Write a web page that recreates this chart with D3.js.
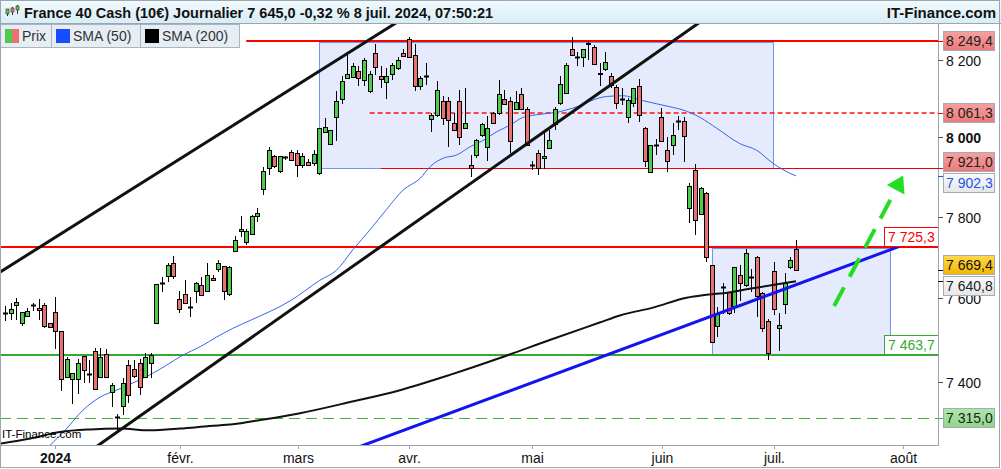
<!DOCTYPE html>
<html>
<head>
<style>
body { margin: 0; background: #fff; }
svg { display: block; font-family: "Liberation Sans", Arial, sans-serif; }
</style>
</head>
<body>
<svg width="1001" height="469"></svg>
<script src="https://d3js.org/d3.v7.min.js"></script>
<script>
// daily candles [open, high, low, close], from mid-December 2023 to 8 July 2024
var candles = [
  [7564,7581,7544,7564],[7564,7589,7546,7573],[7583,7601,7548,7590],[7540,7567,7532,7567],
  [7557,7577,7554,7569],[7583,7589,7569,7583],[7576,7597,7548,7571],[7583,7589,7528,7532],
  [7541,7541,7528,7531],[7567,7603,7478,7521],[7520,7520,7377,7406],[7410,7458,7408,7454],
  [7406,7420,7348,7420],[7406,7453,7371,7444],[7460,7460,7398,7427],[7419,7451,7396,7419],
  [7472,7479,7382,7382],[7411,7479,7408,7458],[7466,7477,7408,7410],[7375,7398,7340,7391],
  [7318,7324,7286,7318],[7343,7409,7322,7398],[7439,7451,7349,7368],[7430,7451,7408,7414],
  [7444,7453,7369,7387],[7411,7467,7408,7458],[7444,7467,7408,7464],[7540,7635,7540,7635],
  [7637,7651,7616,7637],[7654,7685,7639,7680],[7685,7703,7647,7654],[7599,7618,7565,7573],
  [7610,7643,7585,7589],[7579,7603,7554,7579],[7618,7639,7587,7637],[7632,7651,7605,7607],
  [7617,7685,7616,7657],[7650,7656,7643,7645],[7670,7693,7664,7685],[7678,7679,7595,7618],
  [7610,7678,7605,7675],[7715,7753,7714,7743],[7764,7802,7749,7769],[7738,7769,7730,7764],
  [7757,7805,7757,7802],[7802,7822,7786,7809],[7869,7925,7853,7914],[7921,7975,7905,7967],
  [7952,7955,7921,7927],[7914,7952,7909,7952],[7949,7952,7942,7949],[7963,7967,7940,7942],
  [7959,7967,7899,7930],[7930,7959,7922,7952],[7938,7944,7927,7931],[7934,7967,7927,7957],
  [7909,8023,7905,8023],[8014,8049,8011,8027],[7982,8018,7980,8018],[8051,8118,7992,8094],
  [8098,8159,8086,8144],[8153,8218,8153,8164],[8155,8192,8153,8185],[8172,8183,8131,8153],
  [8148,8204,8132,8200],[8118,8170,8114,8163],[8218,8243,8161,8181],[8157,8183,8127,8150],
  [8142,8179,8098,8157],[8163,8192,8148,8187],[8178,8209,8174,8200],[8218,8230,8209,8211],
  [8256,8261,8207,8207],[8213,8243,8118,8132],[8131,8157,8122,8154],[8157,8192,8135,8157],
  [8046,8062,8014,8057],[8057,8146,8053,8122],[8094,8107,8031,8050],[8094,8105,7976,8044],
  [8036,8062,8018,8018],[8094,8122,7980,8001],[8025,8127,8025,8036],[7930,7955,7900,7921],
  [7955,7997,7947,7994],[8007,8036,8001,8033],[7976,8055,7941,8023],[8062,8066,8036,8038],
  [8062,8148,8057,8111],[8098,8122,8083,8086],[8094,8105,7959,7992],[8072,8118,8070,8092],
  [8111,8127,8070,8072],[8072,8079,7980,7980],[7931,7940,7917,7931],[7959,7967,7905,7921],
  [7947,8018,7919,7953],[7972,8018,7972,7994],[8034,8079,8018,8072],[8089,8157,8083,8137],
  [8115,8192,8114,8187],[8228,8261,8211,8213],[8209,8222,8183,8209],[8209,8230,8181,8228],
  [8245,8246,8200,8241],[8235,8239,8187,8189],[8163,8192,8133,8167],[8176,8222,8170,8196],
  [8157,8166,8127,8135],[8129,8135,8074,8087],[8098,8127,8083,8098],[8051,8101,8038,8096],
  [8089,8127,8079,8127],[8133,8150,8040,8057],[8025,8027,7925,7940],[7911,7980,7909,7980],
  [7980,7997,7955,7980],[8051,8075,7991,7991],[7969,8001,7913,7940],[7980,8036,7955,8005],
  [8042,8055,8018,8042],[8042,8051,7938,8003],[7822,7885,7784,7878],[7917,7933,7755,7791],
  [7807,7875,7807,7873],[7860,7861,7689,7700],[7680,7680,7495,7495],[7532,7579,7506,7565],
  [7626,7636,7562,7626],[7614,7614,7558,7564],[7581,7675,7565,7675],[7656,7680,7593,7636],
  [7631,7720,7626,7711],[7651,7670,7614,7651],[7700,7703,7554,7605],[7612,7614,7518,7528],
  [7544,7550,7451,7467],[7666,7689,7558,7573],[7528,7565,7473,7534],[7585,7661,7562,7636],
  [7675,7701,7672,7694],[7720,7743,7666,7669.4]
];

// moving averages: [candle index, value]
var sma50 = [
  [8,7251],[10.7,7286],[13.9,7333],[17,7364],[19.9,7380],[22.8,7397],[25.8,7416],[28.8,7439],
  [31.7,7463],[34.8,7483],[37.7,7506],[40.6,7527],[43.7,7546],[50.8,7593],[56.1,7643],[59.1,7668],
  [62,7718],[65.1,7768],[68,7818],[71,7867],[74,7896],[75.8,7926],[78.1,7947],[80.5,7955],
  [82.9,7976],[85.2,7992],[87.6,8014],[90,8031],[92.3,8051],[95.9,8060],[98.9,8066],[101.2,8075],
  [107.2,8105],[110.2,8107],[113.2,8096],[116.2,8086],[119,8077],[120.9,8070],[123.9,8051],
  [126.9,8023],[131,7984],[134,7967],[136.9,7934],[139.9,7909],[141,7902.3]
];
var sma200 = [
  [-1,7255],[4.5,7267],[9.8,7282],[15.2,7288],[20.5,7290],[25.8,7286],[31.2,7290],[36.5,7296],
  [40.6,7300],[45.5,7310],[52.6,7326],[61.5,7352],[70.4,7380],[79.3,7416],[88.2,7456],[97.1,7499],
  [106,7541],[109.6,7558],[115.5,7577],[121.5,7601],[124.4,7607],[127.4,7611],[133.3,7624],[141,7640.8]
];

var monthTicks = [
  { i: 8.9, label: "2024", bold: true }, { i: 31.2, label: "févr." }, { i: 52.2, label: "mars" },
  { i: 72.1, label: "avr." }, { i: 94.0, label: "mai" }, { i: 117.1, label: "juin" },
  { i: 137.0, label: "juil." }, { i: 160.1, label: "août" }
];
var priceTicks = [8200, 8000, 7800, 7600, 7400];

var topLevel = 8249.4, midLevel = 8061.3, boxLevel = 7921.0, pivotLevel = 7725.3;
var supportLevel = 7463.7, lowLevel = 7315.0;
var lastPrice = 7669.4, sma50Last = 7902.3, sma200Last = 7640.8;

// drawn objects: [candle index, price]
var upperChannel = [[0, 7671], [62, 8226]];
var lowerChannel = [[53.2, 7593], [116.8, 8226]];
var blueTrend = [[109.6, 7475], [159.2, 7725.3]];
var arrowPts = [[147.8, 7581], [160.1, 7903]];
var zone1 = { i0: 56, i1: 137, top: 8246, bottom: 7921.0 };
var zone2 = { i0: 126.1, i1: 157.9, top: 7723, bottom: 7463.7 };

var title = "France 40 Cash (10€) Journalier 7 645,0 -0,32 % 8 juil. 2024, 07:50:21";

var svg = d3.select("svg"),
    plot = { left: 1, right: 938, top: 24, bottom: 445 };

var fr = d3.formatLocale({ decimal: ",", thousands: "\u00a0", grouping: [3], currency: ["", ""] });
var f1 = fr.format(",.1f"), f0 = fr.format(",.0f");

var x = d3.scaleLinear().domain([0, 141]).range([5, 796]);
var y = d3.scaleLog().domain([7254.3, 8294.7]).range([444, 24]);

var defs = svg.append("defs");
defs.append("clipPath").attr("id", "clip").append("rect")
    .attr("x", plot.left).attr("y", plot.top)
    .attr("width", plot.right - plot.left).attr("height", plot.bottom - plot.top);
function grad(id, c1, c2) {
  var g = defs.append("linearGradient").attr("id", id).attr("x1", 0).attr("y1", 0).attr("x2", 0).attr("y2", 1);
  g.append("stop").attr("offset", "0%").attr("stop-color", c1);
  g.append("stop").attr("offset", "100%").attr("stop-color", c2);
}
grad("gTitle", "#f2fafd", "#d8edf5");
grad("gRed", "#f6a0a0", "#ec7a7a");
grad("gGold", "#ffd84a", "#f2b600");
grad("gGreen", "#aee6a8", "#8fd68a");
grad("gGrey", "#fafafa", "#e6e6e6");

svg.append("rect").attr("width", 1001).attr("height", 469).attr("fill", "#fff");

var g = svg.append("g").attr("clip-path", "url(#clip)");

// zones
[zone1, zone2].forEach(function (z) {
  g.append("rect")
    .attr("x", Math.round(x(z.i0)) + 0.5).attr("y", Math.round(y(z.top)) + 0.5)
    .attr("width", Math.round(x(z.i1) - x(z.i0))).attr("height", Math.round(y(z.bottom) - y(z.top)))
    .attr("fill", "#e5ebfc").attr("stroke", "#6b98ec").attr("stroke-width", 1);
});

function hline(v, i0, color, w, dash) {
  var yy = w % 2 === 1 ? Math.round(y(v)) + 0.5 : Math.round(y(v));
  g.append("line").attr("x1", i0 == null ? 0 : x(i0)).attr("x2", plot.right)
    .attr("y1", yy).attr("y2", yy)
    .attr("stroke", color).attr("stroke-width", w)
    .attr("stroke-dasharray", dash || null);
}
hline(topLevel, 43, "#ff0000", 2);
hline(midLevel, 65, "#ff1010", 1.6, "5,3");
hline(boxLevel, 67, "#ee0000", 1);
hline(pivotLevel, null, "#ff0000", 2);
hline(supportLevel, null, "#33aa33", 2);
hline(lowLevel, null, "#33bb33", 1, "11,6");

// moving averages
var ma = d3.line().x(function (d) { return x(d[0]); }).y(function (d) { return y(d[1]); })
    .curve(d3.curveMonotoneX);
g.append("path").datum(sma50).attr("d", ma).attr("fill", "none")
  .attr("stroke", "#3366ee").attr("stroke-width", 1);

// candles
var cg = g.append("g");
candles.forEach(function (c, i) {
  var cx = Math.round(x(i)), o = c[0], h = c[1], l = c[2], cl = c[3];
  cg.append("line").attr("x1", cx + 0.5).attr("x2", cx + 0.5)
    .attr("y1", Math.round(y(h))).attr("y2", Math.round(y(l)))
    .attr("stroke", "#000").attr("stroke-width", 1);
  if (o === cl) {
    cg.append("line").attr("x1", cx - 2).attr("x2", cx + 3)
      .attr("y1", Math.round(y(o)) + 0.5).attr("y2", Math.round(y(o)) + 0.5)
      .attr("stroke", "#000").attr("stroke-width", 2);
  } else {
    var t = Math.round(y(Math.max(o, cl))), b = Math.round(y(Math.min(o, cl)));
    cg.append("rect").attr("x", cx - 1.5).attr("y", t + 0.5)
      .attr("width", 4).attr("height", Math.max(1, b - t))
      .attr("fill", cl > o ? "#4ccb4c" : "#e87272")
      .attr("stroke", "#000").attr("stroke-width", 1);
  }
});

g.append("path").datum(sma200).attr("d", ma).attr("fill", "none")
  .attr("stroke", "#111").attr("stroke-width", 2);

// trend lines, extended across the plot
function trend(pts, color, w) {
  var x1 = x(pts[0][0]), y1 = y(pts[0][1]), x2 = x(pts[1][0]), y2 = y(pts[1][1]);
  var s = (y2 - y1) / (x2 - x1);
  return g.append("line").attr("x1", -50).attr("y1", y1 + s * (-50 - x1))
    .attr("x2", x2).attr("y2", y2)
    .attr("stroke", color).attr("stroke-width", w).attr("stroke-linecap", "round");
}
function trendFull(pts, color, w) {
  var x1 = x(pts[0][0]), y1 = y(pts[0][1]), x2 = x(pts[1][0]), y2 = y(pts[1][1]);
  var s = (y2 - y1) / (x2 - x1);
  g.append("line").attr("x1", -50).attr("y1", y1 + s * (-50 - x1))
    .attr("x2", 1000).attr("y2", y1 + s * (1000 - x1))
    .attr("stroke", color).attr("stroke-width", w);
}
trendFull(upperChannel, "#111", 3);
trendFull(lowerChannel, "#111", 3);
trend(blueTrend, "#1414ee", 3);

// green dashed arrow
(function () {
  var ax = x(arrowPts[0][0]), ay = y(arrowPts[0][1]), bx = x(arrowPts[1][0]), by = y(arrowPts[1][1]);
  var len = Math.hypot(bx - ax, by - ay), ux = (bx - ax) / len, uy = (by - ay) / len;
  var hl = 16, hw = 10;
  var baseX = bx - ux * hl, baseY = by - uy * hl;
  g.append("line").attr("x1", ax).attr("y1", ay).attr("x2", baseX + ux * 2).attr("y2", baseY + uy * 2)
    .attr("stroke", "#22dd22").attr("stroke-width", 4).attr("stroke-dasharray", "21,12");
  g.append("path").attr("d", "M" + bx + "," + by +
      "L" + (baseX - uy * hw) + "," + (baseY + ux * hw) +
      "L" + (baseX + uy * hw) + "," + (baseY - ux * hw) + "Z")
    .attr("fill", "#22dd22");
})();

// labels inside the plot
function plotLabel(v, color) {
  var yb = Math.round(y(v));
  g.append("rect").attr("x", 884.5).attr("y", yb - 19.5).attr("width", 54).attr("height", 19)
    .attr("fill", "#fff").attr("stroke", color).attr("stroke-width", 1);
  g.append("text").attr("x", 888).attr("y", yb - 5).attr("fill", color)
    .attr("font-size", 14).text(f1(v));
}
plotLabel(pivotLevel, "#ff0000");
plotLabel(supportLevel, "#33aa33");

// watermark
svg.append("text").attr("x", 2).attr("y", 438).attr("font-size", 11.5).attr("fill", "#000")
  .text("IT-Finance.com");

// frame of the plot
svg.append("line").attr("x1", 0).attr("x2", plot.right).attr("y1", plot.bottom + 0.5).attr("y2", plot.bottom + 0.5)
  .attr("stroke", "#9aa6b2");
svg.append("line").attr("x1", plot.right + 0.5).attr("x2", plot.right + 0.5).attr("y1", plot.top).attr("y2", plot.bottom + 1)
  .attr("stroke", "#9aa6b2");

// bottom axis
monthTicks.forEach(function (t) {
  var tx = Math.round(x(t.i)) + 0.5;
  svg.append("line").attr("x1", tx).attr("x2", tx).attr("y1", plot.bottom).attr("y2", plot.bottom + 4)
    .attr("stroke", "#9aa6b2");
  svg.append("text").attr("x", tx).attr("y", 463).attr("text-anchor", "middle")
    .attr("font-size", 14).attr("font-weight", t.bold ? "bold" : null).attr("fill", "#111")
    .text(t.label);
});

// right axis ticks
priceTicks.forEach(function (v) {
  var yy = Math.round(y(v)) + 0.5;
  svg.append("line").attr("x1", plot.right).attr("x2", plot.right + 5).attr("y1", yy).attr("y2", yy)
    .attr("stroke", "#555");
  svg.append("text").attr("x", 946).attr("y", yy).attr("dy", "0.36em").attr("font-size", 14)
    .attr("font-weight", v % 1000 === 0 ? "bold" : null).attr("fill", "#111").text(f0(v));
});

// right axis value boxes, pushed apart when they collide
var boxes = [
  { v: topLevel, fill: "url(#gRed)", text: "#222", tick: "#ff0000" },
  { v: midLevel, fill: "url(#gRed)", text: "#222", tick: "#ff0000" },
  { v: boxLevel, fill: "url(#gRed)", text: "#222", tick: "#ee0000" },
  { v: sma50Last, fill: "url(#gGrey)", text: "#2255ee", tick: "#2255ee" },
  { v: lastPrice, fill: "url(#gGold)", text: "#111", tick: "#111" },
  { v: sma200Last, fill: "url(#gGrey)", text: "#222", tick: "#111" },
  { v: lowLevel, fill: "url(#gGreen)", text: "#222", tick: "#33bb33" }
];
var bh = 20;
boxes.forEach(function (b) { b.y = y(b.v); b.cy = b.y; });
boxes.sort(function (a, b) { return a.y - b.y; });
for (var k = 0; k < 30; k++) {
  for (var j = 1; j < boxes.length; j++) {
    var d = boxes[j].cy - boxes[j - 1].cy;
    if (d < bh + 1) {
      var p = (bh + 1 - d) / 2;
      boxes[j].cy += p; boxes[j - 1].cy -= p;
    }
  }
}
boxes.forEach(function (b) {
  var yy = Math.round(b.y) + 0.5;
  svg.append("line").attr("x1", plot.right).attr("x2", plot.right + 5).attr("y1", yy).attr("y2", yy)
    .attr("stroke", b.tick);
  var top = Math.round(b.cy - bh / 2) + 0.5;
  svg.append("rect").attr("x", 943.5).attr("y", top).attr("width", 51).attr("height", bh - 1)
    .attr("fill", b.fill).attr("stroke", "#a3acb5");
  svg.append("text").attr("x", 946).attr("y", top + bh / 2 - 0.5).attr("dy", "0.36em")
    .attr("font-size", 14).attr("fill", b.text).text(f1(b.v));
});

// title bar
svg.append("rect").attr("x", 0).attr("y", 0).attr("width", 1001).attr("height", 23)
  .attr("fill", "url(#gTitle)");
svg.append("line").attr("x1", 0).attr("x2", 1001).attr("y1", 23.5).attr("y2", 23.5).attr("stroke", "#9aa6b2");
[[7, "#4ccb4c", 10, 16, 9, 14], [12, "#e87272", 7, 15, 8, 12], [17, "#4ccb4c", 5, 14, 6, 10]].forEach(function (c) {
  svg.append("line").attr("x1", c[0] + 0.5).attr("x2", c[0] + 0.5).attr("y1", c[2]).attr("y2", c[3]).attr("stroke", "#333");
  svg.append("rect").attr("x", c[0] - 1).attr("y", c[4]).attr("width", 3).attr("height", c[5] - c[4])
    .attr("fill", c[1]).attr("stroke", "#333").attr("stroke-width", 0.6);
});
svg.append("text").attr("x", 24).attr("y", 18).attr("font-size", 14.5).attr("font-weight", "bold")
  .attr("fill", "#111").text(title);
svg.append("text").attr("x", 996).attr("y", 18).attr("text-anchor", "end").attr("font-size", 15)
  .attr("font-weight", "bold").attr("fill", "#111").text("IT-Finance.com");

// legend
var legend = [
  { x0: 0, x1: 51, label: "Prix", sw: ["#4ccb4c", "#e87272"] },
  { x0: 51, x1: 140, label: "SMA (50)", sw: ["#1a4cff"] },
  { x0: 140, x1: 239, label: "SMA (200)", sw: ["#000"] }
];
legend.forEach(function (l) {
  svg.append("rect").attr("x", l.x0 + 0.5).attr("y", 24.5).attr("width", l.x1 - l.x0).attr("height", 23)
    .attr("fill", "#e6eef4").attr("stroke", "#a8b4c0");
  if (l.sw.length === 2) {
    svg.append("rect").attr("x", l.x0 + 5).attr("y", 29).attr("width", 7).attr("height", 14).attr("fill", l.sw[0]);
    svg.append("rect").attr("x", l.x0 + 12).attr("y", 29).attr("width", 7).attr("height", 14).attr("fill", l.sw[1]);
  } else {
    svg.append("rect").attr("x", l.x0 + 5).attr("y", 29).attr("width", 14).attr("height", 14).attr("fill", l.sw[0]);
  }
  svg.append("text").attr("x", l.x0 + 22).attr("y", 41).attr("font-size", 14).attr("fill", "#333").text(l.label);
});

// outer frame
svg.append("rect").attr("x", 0.5).attr("y", 0.5).attr("width", 999).attr("height", 467)
  .attr("fill", "none").attr("stroke", "#9aa6b2");
</script>
</body>
</html>
